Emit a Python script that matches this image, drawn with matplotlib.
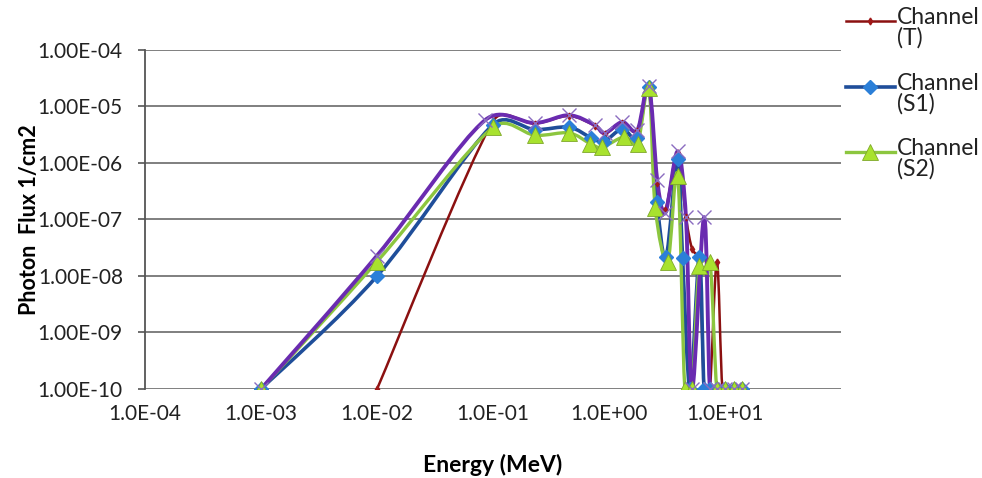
import numpy as np
import matplotlib
matplotlib.use("Agg")
import matplotlib.pyplot as plt
from matplotlib.path import Path
from matplotlib.patches import PathPatch
from matplotlib.lines import Line2D
from matplotlib.ticker import FixedLocator, FuncFormatter, NullLocator

plt.rcParams["font.family"] = ["Lato", "DejaVu Sans"]

# energy (MeV) / photon flux (1/cm2)
e_t = [1e-2, 0.1, 0.23, 0.45, 0.75, 0.92, 1.3, 1.75, 2.2, 2.6, 3.05, 3.9, 4.6,
       5.2, 6.0, 6.6, 7.4, 8.5, 9.5, 11, 12.5, 14]
f_t = [1e-10, 5.5e-6, 5.0e-6, 6.8e-6, 4.6e-6, 3.3e-6, 5.2e-6, 3.7e-6, 2.3e-5,
       4.5e-7, 1.5e-7, 1.5e-6, 1.1e-7, 3e-8, 2e-8, 1e-10, 1e-10, 1.8e-8,
       1e-10, 1e-10, 1e-10, 1e-10]

e_s1 = [1e-3, 1e-2, 0.1, 0.23, 0.45, 0.7, 0.9, 1.3, 1.75, 2.2, 2.6, 3.1, 3.9,
        4.3, 5.0, 6.0, 6.6, 7.4, 8.5, 10, 12, 14]
f_s1 = [1e-10, 1e-8, 4.8e-6, 3.9e-6, 4.3e-6, 2.8e-6, 2.4e-6, 4.0e-6, 2.8e-6,
        2.2e-5, 2e-7, 2.2e-8, 1.2e-6, 2.1e-8, 1e-10, 2.2e-8, 1e-10, 1e-10,
        1e-10, 1e-10, 1e-10, 1e-10]

e_s2 = [1e-3, 1e-2, 0.1, 0.23, 0.45, 0.69, 0.87, 1.35, 1.76, 2.2, 2.5, 3.2,
        3.9, 4.5, 5.2, 6.0, 7.4, 8.5, 10, 12, 14]
f_s2 = [1e-10, 1.8e-8, 4.3e-6, 3.1e-6, 3.4e-6, 2.2e-6, 1.9e-6, 2.9e-6, 2.2e-6,
        2.1e-5, 1.6e-7, 1.8e-8, 6e-7, 1e-10, 1e-10, 1.5e-8, 1.8e-8, 1e-10,
        1e-10, 1e-10, 1e-10]

# 4th series (not in legend)
e_s3 = [1e-3, 1e-2, 0.085, 0.23, 0.45, 0.75, 0.92, 1.3, 1.75, 2.2, 2.6, 3.05,
        3.9, 4.6, 5.2, 6.6, 7.4, 8.5, 10, 12, 14]
f_s3 = [1e-10, 2.3e-8, 5.7e-6, 5.1e-6, 7.0e-6, 4.7e-6, 3.4e-6, 5.3e-6, 3.8e-6,
        2.3e-5, 5e-7, 1.3e-7, 1.6e-6, 1.1e-7, 1e-10, 1.1e-7, 1e-10, 1e-10,
        1e-10, 1e-10, 1e-10]

labels = ["Channel\n(T)", "Channel\n(S1)", "Channel\n(S2)"]
x_ticks = [1e-4, 1e-3, 1e-2, 1e-1, 1e0, 1e1]
y_ticks = [1e-10, 1e-9, 1e-8, 1e-7, 1e-6, 1e-5, 1e-4]

# px per decade on screen, used only for the smoothing limits
PX_X, PX_Y = 116.0, 56.5


def smooth_path(x, y):
    # excel-ish smoothed line: catmull-rom bezier in screen (log) space,
    # control arms clipped so steep neighbours do not overshoot too much
    p = np.column_stack([np.log10(x) * PX_X, np.log10(y) * PX_Y])
    n = len(p)
    tang = []
    for i in range(n):
        a = p[i - 1] if i > 0 else p[i]
        b = p[i + 1] if i < n - 1 else p[i]
        tang.append((b - a) / 6)
    verts = [p[0]]
    codes = [Path.MOVETO]
    for i in range(n - 1):
        seg = np.linalg.norm(p[i + 1] - p[i])
        t1, t2 = tang[i], tang[i + 1]
        l1, l2 = np.linalg.norm(t1), np.linalg.norm(t2)
        if l1 > 0.45 * seg:
            t1 = t1 * 0.45 * seg / l1
        if l2 > 0.45 * seg:
            t2 = t2 * 0.45 * seg / l2
        verts += [p[i] + t1, p[i + 1] - t2, p[i + 1]]
        codes += [Path.CURVE4] * 3
    v = np.array(verts)
    v = np.column_stack([10 ** (v[:, 0] / PX_X), 10 ** (v[:, 1] / PX_Y)])
    return Path(v, codes)


fig = plt.figure(figsize=(9.82, 4.78), dpi=100)
ax = fig.add_axes([0.1477, 0.1862, 0.7088, 0.7092])
ax.set_xscale("log")
ax.set_yscale("log")
ax.set_xlim(1e-4, 1e2)
ax.set_ylim(1e-10, 1e-4)

series = [
    (e_t, f_t, "#8B1010", 1.8, dict(marker="d", ms=3.5, mfc="#A01818", mec="#A01818")),
    (e_s1, f_s1, "#1F4E9A", 2.6, dict(marker="D", ms=7, mfc="#2B7FD8", mec="#2B7FD8")),
    (e_s2, f_s2, "#8CC63F", 2.4, dict(marker="^", ms=11.5, mfc="#A8E22E", mec="#7FA82A", mew=0.6)),
    (e_s3, f_s3, "#6A2BB0", 2.8, dict(marker="x", ms=10, mfc="none", mec="#8B6CC0", mew=1.0)),
]
for x, y, col, lw, mk in series:
    ax.add_patch(PathPatch(smooth_path(x, y), fill=False, edgecolor=col, lw=lw,
                           joinstyle="round", capstyle="round", zorder=3))
    ax.plot(x, y, ls="none", zorder=4, **mk)

ax.xaxis.set_major_locator(FixedLocator(x_ticks))
ax.xaxis.set_minor_locator(NullLocator())
ax.yaxis.set_major_locator(FixedLocator(y_ticks))
ax.yaxis.set_minor_locator(NullLocator())
ax.xaxis.set_major_formatter(FuncFormatter(lambda v, p: f"{v:.1E}"))
ax.yaxis.set_major_formatter(FuncFormatter(lambda v, p: f"{v:.2E}"))
ax.tick_params(axis="x", length=0, pad=11, labelsize=15, labelcolor="#222222")
ax.tick_params(axis="y", length=5, width=1.2, pad=11, labelsize=15,
               color="#555555", labelcolor="#222222", direction="out")

for s in ["top", "right", "bottom"]:
    ax.spines[s].set_visible(False)
ax.spines["left"].set_color("#555555")
ax.spines["left"].set_linewidth(1.3)
ax.grid(axis="y", color="#7f7f7f", lw=1.4)
ax.set_axisbelow(True)

ax.set_xlabel("Energy (MeV)", fontsize=16.5, fontweight="bold", labelpad=21)
ax.set_ylabel("Photon  Flux 1/cm2", fontsize=15.5, fontweight="bold", labelpad=-2)

# legend drawn by hand so the handle sits on the first text line
leg_top = [0.978, 0.840, 0.704]
for (x, y, col, lw, mk), lab, yt in zip(series[:3], labels, leg_top):
    fig.add_artist(Line2D([0.861, 0.886, 0.911], [yt - 0.022] * 3,
                          transform=fig.transFigure, color=col, lw=lw,
                          markevery=[1], **mk))
    fig.text(0.913, yt + 0.008, lab, fontsize=16.5, va="top", ha="left",
             color="#222222", linespacing=0.98)

fig.savefig("out.png", dpi=100)
